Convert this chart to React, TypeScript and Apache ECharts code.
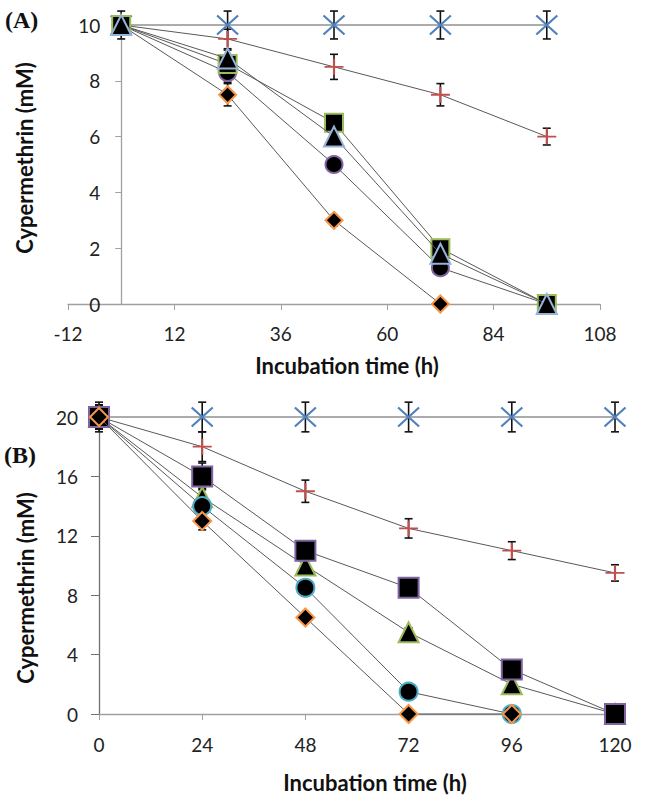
import React, { useEffect, useRef } from "react";
import * as echarts from "echarts";

// ---------- Panel A data ----------
const timeA = [0, 24, 48, 72, 96];
const aControl = [10, 10, 10, 10, 10];
const aControlErr = [0.5, 0.5, 0.5, 0.5, 0.5];
const aPlus = [10, 9.5, 8.5, 7.5, 6.0];
const aPlusErr = [0.3, 0.35, 0.45, 0.4, 0.3];
const aSquare = [10, 8.6, 6.5, 2.0, 0];
const aSquareErr = [0.3, 0.3, 0.2, 0.2, 0];
const aTriangle = [10, 8.8, 6.0, 1.8, 0];
const aTriangleErr = [0.3, 0.3, 0.2, 0.2, 0];
const aCircle = [10, 8.3, 5.0, 1.3, 0];
const aCircleErr = [0.3, 0.35, 0.2, 0.2, 0];
const aDiamond = [10, 7.5, 3.0, 0, null];
const aDiamondErr = [0.3, 0.4, 0.2, 0, 0];

// ---------- Panel B data ----------
const timeB = [0, 24, 48, 72, 96, 120];
const bControl = [20, 20, 20, 20, 20, 20];
const bControlErr = [1, 1, 1, 1, 1, 1];
const bPlus = [20, 18, 15, 12.5, 11, 9.5];
const bPlusErr = [0.8, 1.0, 0.75, 0.65, 0.6, 0.55];
const bSquare = [20, 16, 11, 8.5, 3, 0];
const bSquareErr = [0.8, 0.9, 0.5, 0.3, 0.3, 0];
const bTriangle = [20, 14.6, 10, 5.5, 2, 0];
const bTriangleErr = [0.8, 0.6, 0.4, 0.3, 0.3, 0];
const bCircle = [20, 14, 8.5, 1.5, 0, null];
const bCircleErr = [0.8, 0.6, 0.4, 0.3, 0, 0];
const bDiamond = [20, 13, 6.5, 0, 0, null];
const bDiamondErr = [0.8, 0.6, 0.3, 0, 0, 0];

const xTicksA = { min: -12, max: 108, interval: 24 };
const yTicksA = { min: 0, max: 10, interval: 2 };
const xTicksB = { min: 0, max: 120, interval: 24 };
const yTicksB = { min: 0, max: 20, interval: 4 };

const LINE = "#595959";
const AXIS = "#a0a0a0";
const FONT = "Lato";

const xPath = "path://M0,0L10,10M10,0L0,10";
const plusPath = "path://M0,5L10,5M5,0L5,10";

// grid geometry
const GA = { left: 68, right: 45, top: 25, bottom: 498 };
const GB = { left: 99, right: 30, top: 417, bottom: 88 };
// offset to put panel A's y axis at x = 0 of its x axis
const aZeroOffset = -((0 - xTicksA.min) / (xTicksA.max - xTicksA.min)) * (645 - GA.left - GA.right);

function pairs(xs: number[], ys: (number | null)[]) {
  return xs.map((x, i) => [x, ys[i]]).filter((p) => p[1] !== null);
}
function errPairs(xs: number[], ys: (number | null)[], es: number[]) {
  return xs
    .map((x, i) => [x, ys[i], es[i]])
    .filter((p) => p[1] !== null && (p[2] as number) > 0);
}

type SDef = {
  ys: (number | null)[];
  es: number[];
  symbol: string;
  size: number | number[];
  fill: string;
  border: string;
  bw: number;
};

function buildSeries(xs: number[], defs: SDef[], axisIndex: number) {
  const out: any[] = [];
  defs.forEach((d, k) => {
    out.push({
      type: "custom",
      xAxisIndex: axisIndex,
      yAxisIndex: axisIndex,
      z: 2,
      silent: true,
      clip: false,
      encode: { x: 0, y: 1 },
      data: errPairs(xs, d.ys, d.es),
      renderItem: (params: any, api: any) => {
        const x = api.value(0);
        const y = api.value(1);
        const e = api.value(2);
        const t = api.coord([x, y + e]);
        const b = api.coord([x, y - e]);
        const hw = 4;
        const st = { stroke: "#111", lineWidth: 1.6 };
        return {
          type: "group",
          children: [
            { type: "line", shape: { x1: t[0], y1: t[1], x2: b[0], y2: b[1] }, style: st },
            { type: "line", shape: { x1: t[0] - hw, y1: t[1], x2: t[0] + hw, y2: t[1] }, style: st },
            { type: "line", shape: { x1: b[0] - hw, y1: b[1], x2: b[0] + hw, y2: b[1] }, style: st },
          ],
        };
      },
    });
    out.push({
      type: "line",
      xAxisIndex: axisIndex,
      yAxisIndex: axisIndex,
      z: 3 + k,
      data: pairs(xs, d.ys),
      symbol: d.symbol,
      symbolSize: d.size,
      showSymbol: true,
      clip: false,
      lineStyle: { color: LINE, width: 1 },
      itemStyle: { color: d.fill, borderColor: d.border, borderWidth: d.bw, opacity: 1 },
      emphasis: { disabled: true },
    });
  });
  return out;
}

const defsA: SDef[] = [
  { ys: aControl, es: aControlErr, symbol: xPath, size: [21, 19], fill: "none", border: "#4F81BD", bw: 2 },
  { ys: aPlus, es: aPlusErr, symbol: plusPath, size: [19, 16], fill: "none", border: "#C0504D", bw: 2 },
  { ys: aDiamond, es: aDiamondErr, symbol: "diamond", size: 17, fill: "#000", border: "#F79646", bw: 2 },
  { ys: aCircle, es: aCircleErr, symbol: "circle", size: 17, fill: "#000", border: "#8064A2", bw: 2 },
  { ys: aSquare, es: aSquareErr, symbol: "rect", size: 18, fill: "#000", border: "#9BBB59", bw: 2 },
  { ys: aTriangle, es: aTriangleErr, symbol: "triangle", size: 20, fill: "#000", border: "#95B3D7", bw: 2 },
];

const defsB: SDef[] = [
  { ys: bControl, es: bControlErr, symbol: xPath, size: [21, 19], fill: "none", border: "#4F81BD", bw: 2 },
  { ys: bPlus, es: bPlusErr, symbol: plusPath, size: [19, 16], fill: "none", border: "#C0504D", bw: 2 },
  { ys: bTriangle, es: bTriangleErr, symbol: "triangle", size: 20, fill: "#000", border: "#9BBB59", bw: 2 },
  { ys: bCircle, es: bCircleErr, symbol: "circle", size: 18, fill: "#000", border: "#4BACC6", bw: 2 },
  { ys: bSquare, es: bSquareErr, symbol: "rect", size: 20, fill: "#000", border: "#8064A2", bw: 2 },
  { ys: bDiamond, es: bDiamondErr, symbol: "diamond", size: 18, fill: "#000", border: "#F79646", bw: 2 },
];

const labelStyle = { color: "#222", fontFamily: FONT, fontSize: 19 };

export default function App() {
  const ref = useRef<HTMLDivElement>(null);
  useEffect(() => {
    if (!ref.current) return;
    const chart = echarts.init(ref.current, undefined, { renderer: "svg" });
    const titleFont = `bold 22px ${FONT}`;
    const panelFont = "bold 24px 'Liberation Serif'";
    const option: any = {
      animation: false,
      backgroundColor: "#fff",
      grid: [GA, GB],
      xAxis: [
        {
          type: "value",
          gridIndex: 0,
          ...xTicksA,
          splitLine: { show: false },
          axisLine: { show: true, onZero: false, lineStyle: { color: AXIS, width: 1.3 } },
          axisTick: { show: true, inside: false, length: 6, lineStyle: { color: AXIS } },
          axisLabel: { ...labelStyle, margin: 20 },
        },
        {
          type: "value",
          gridIndex: 1,
          ...xTicksB,
          splitLine: { show: false },
          axisLine: { show: true, onZero: false, lineStyle: { color: AXIS, width: 1.3 } },
          axisTick: { show: true, inside: false, length: 6, lineStyle: { color: AXIS } },
          axisLabel: { ...labelStyle, margin: 21 },
        },
      ],
      yAxis: [
        {
          type: "value",
          gridIndex: 0,
          ...yTicksA,
          offset: aZeroOffset,
          splitLine: { show: false },
          axisLine: { show: true, onZero: false, lineStyle: { color: AXIS, width: 1.3 } },
          axisTick: { show: true, inside: false, length: 6, lineStyle: { color: AXIS } },
          axisLabel: { ...labelStyle, margin: 21 },
        },
        {
          type: "value",
          gridIndex: 1,
          ...yTicksB,
          splitLine: { show: false },
          axisLine: { show: true, onZero: false, lineStyle: { color: "#707070", width: 1.3 } },
          axisTick: { show: true, inside: false, length: 8, lineStyle: { color: "#707070" } },
          axisLabel: { ...labelStyle, margin: 21 },
        },
      ],
      graphic: [
        {
          type: "text",
          left: 5,
          top: 8,
          style: { text: "(A)", font: panelFont, fill: "#111" },
        },
        {
          type: "text",
          left: 4,
          top: 443,
          style: { text: "(B)", font: panelFont, fill: "#111" },
        },
        {
          type: "text",
          x: 347,
          y: 365,
          style: { text: "Incubation time (h)", font: titleFont, fill: "#111", align: "center", verticalAlign: "middle" },
        },
        {
          type: "text",
          x: 375,
          y: 782,
          style: { text: "Incubation time (h)", font: titleFont, fill: "#111", align: "center", verticalAlign: "middle" },
        },
        {
          type: "text",
          x: 24,
          y: 158,
          rotation: Math.PI / 2,
          style: { text: "Cypermethrin (mM)", font: titleFont, fill: "#111", align: "center", verticalAlign: "middle" },
        },
        {
          type: "text",
          x: 25,
          y: 588,
          rotation: Math.PI / 2,
          style: { text: "Cypermethrin (mM)", font: titleFont, fill: "#111", align: "center", verticalAlign: "middle" },
        },
      ],
      series: [...buildSeries(timeA, defsA, 0), ...buildSeries(timeB, defsB, 1)],
    };
    chart.setOption(option);
    return () => chart.dispose();
  }, []);
  return (
    <div
      ref={ref}
      style={{ position: "fixed", left: 0, top: 0, width: 645, height: 802, background: "#fff" }}
    />
  );
}
